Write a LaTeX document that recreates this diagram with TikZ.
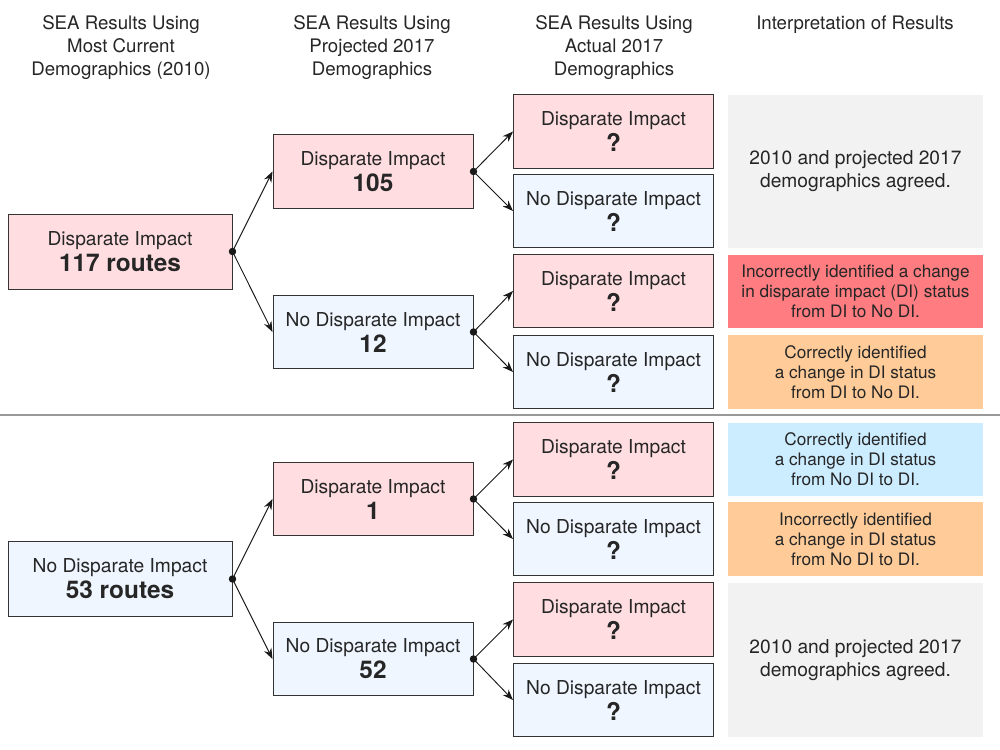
\documentclass[tikz,border=0pt]{standalone}
\usepackage{fontspec}
\setmainfont{TeX Gyre Heros}
\usetikzlibrary{arrows.meta}
\definecolor{dipink}{HTML}{FFDDE0}
\definecolor{diblue}{HTML}{EFF6FF}
\definecolor{agree}{HTML}{F2F2F2}
\definecolor{wrongred}{HTML}{FF7C80}
\definecolor{changeorange}{HTML}{FFCC99}
\definecolor{rightblue}{HTML}{CCECFF}
\newcommand\bignum[1]{{\fontsize{18.3}{20}\selectfont\bfseries #1}}
\begin{document}
\begin{tikzpicture}[x=0.75pt,y=-0.75pt,
  box/.style={draw=black!80, line width=0.75pt, minimum width=150pt, minimum height=55pt,
    inner sep=0pt, align=center, text=black!85, font=\fontsize{14.4}{17.25}\selectfont},
  di/.style={box, fill=dipink},
  nodi/.style={box, fill=diblue},
  rootbox/.style={minimum width=168pt, minimum height=56.25pt},
  note/.style={minimum width=191.25pt, minimum height=55pt, inner sep=0pt, align=center,
    text=black!85, font=\fontsize{12.9}{15}\selectfont},
  head/.style={align=center, text=black!85, font=\fontsize{14}{17.25}\selectfont},
  arr/.style={-{Stealth[length=8pt,width=6pt]}, line width=0.7pt, black!90}
]
\useasboundingbox (0,0) rectangle (1000,750);
% column headings
\node[head] (h1) at (121,48) {SEA Results Using\\Most Current\\Demographics (2010)};
\node[head] (h2) at (372,48) {SEA Results Using\\Projected 2017\\Demographics};
\node[head] (h3) at (614,48) {SEA Results Using\\Actual 2017\\Demographics};
\node[head] (h4) at (855,25) {Interpretation of Results};
% upper tree
\node[di, rootbox] (root1) at (120,251.5) {Disparate Impact\\[2.25pt]\bignum{117 routes}};
\node[di] (p1) at (373,171.5) {Disparate Impact\\[2.25pt]\bignum{105}};
\node[nodi] (p2) at (373,332) {No Disparate Impact\\[2.25pt]\bignum{12}};
\node[di] (q1) at (613.5,131.5) {Disparate Impact\\[2.25pt]\bignum{?}};
\node[nodi] (q2) at (613.5,211) {No Disparate Impact\\[2.25pt]\bignum{?}};
\node[di] (q3) at (613.5,291) {Disparate Impact\\[2.25pt]\bignum{?}};
\node[nodi] (q4) at (613.5,372) {No Disparate Impact\\[2.25pt]\bignum{?}};
% lower tree
\node[nodi, rootbox] (root2) at (120,579) {No Disparate Impact\\[2.25pt]\bignum{53 routes}};
\node[di] (p3) at (373,499) {Disparate Impact\\[2.25pt]\bignum{1}};
\node[nodi] (p4) at (373,659) {No Disparate Impact\\[2.25pt]\bignum{52}};
\node[di] (q5) at (613.5,459.5) {Disparate Impact\\[2.25pt]\bignum{?}};
\node[nodi] (q6) at (613.5,539) {No Disparate Impact\\[2.25pt]\bignum{?}};
\node[di] (q7) at (613.5,619.5) {Disparate Impact\\[2.25pt]\bignum{?}};
\node[nodi] (q8) at (613.5,700) {No Disparate Impact\\[2.25pt]\bignum{?}};
% interpretation
\node[note, fill=agree, minimum height=114.75pt, font=\fontsize{14.4}{17.25}\selectfont] (i1) at (855.5,171.5) {2010 and projected 2017\\demographics agreed.};
\node[note, fill=wrongred] (i2) at (855.5,291.5) {Incorrectly identified a change\\in disparate impact (DI) status\\from DI to No DI.};
\node[note, fill=changeorange] (i3) at (855.5,372) {Correctly identified\\a change in DI status\\from DI to No DI.};
\node[note, fill=rightblue] (i4) at (855.5,459.5) {Correctly identified\\a change in DI status\\from No DI to DI.};
\node[note, fill=changeorange] (i5) at (855.5,539) {Incorrectly identified\\a change in DI status\\from No DI to DI.};
\node[note, fill=agree, minimum height=115.5pt, font=\fontsize{14.4}{17.25}\selectfont] (i6) at (855.5,660) {2010 and projected 2017\\demographics agreed.};
% separator
\draw[black!40, line width=1.5pt] (0,415) -- (1000,415);
% branches
\foreach \s/\a/\b in {root1/p1/p2, p1/q1/q2, p2/q3/q4, root2/p3/p4, p3/q5/q6, p4/q7/q8}{
  \fill[black!90] (\s.east) circle (2.8pt);
  \draw[arr] (\s.east) -- (\a.west);
  \draw[arr] (\s.east) -- (\b.west);
}
\end{tikzpicture}
\end{document}
